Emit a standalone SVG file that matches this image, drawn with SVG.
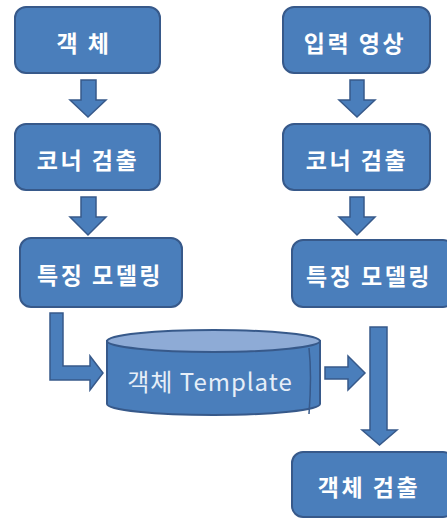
<svg xmlns="http://www.w3.org/2000/svg" width="447" height="519" viewBox="0 0 447 519">
<style>
.box{fill:#4a7ebb;stroke:#37598a;stroke-width:2}
.arr{fill:#4a7ebb;stroke:#37598a;stroke-width:1.5;stroke-linejoin:miter}
.t{fill:#ffffff;font-family:"Noto Sans CJK KR","Malgun Gothic",sans-serif;font-size:23px;font-weight:bold;letter-spacing:2.5px;text-anchor:middle;dominant-baseline:central}
.tc{fill:#e6eef8;font-family:"Noto Sans CJK KR",sans-serif;font-size:24px;letter-spacing:1px;text-anchor:middle;dominant-baseline:central}
</style>
<rect width="447" height="519" fill="#ffffff"/>
<g id="connectors">
<path class="arr" d="M81,80 H96 V100 H106 L88,117 L70,100 H81 Z"/>
<path class="arr" d="M81,197 H96 V217 H106 L88,235 L70,217 H81 Z"/>
<path class="arr" d="M350,80 H364 V100 H375 L357,117 L339,100 H350 Z"/>
<path class="arr" d="M350,197 H364 V217 H375 L357,235 L339,217 H350 Z"/>
<path class="arr" d="M50,313 H63 V366 H90 V356 L103,373 L90,390 V380 H50 Z"/>
<path class="arr" d="M325,367 H348 V356 L365,373 L348,390 V379 H325 Z"/>
<path class="arr" d="M370,327 H387 V430 H397 L379.5,445 L362,430 H370 Z"/>
</g>
<g id="n1"><rect class="box" x="15" y="7" width="145" height="66" rx="11"/><text class="t" x="84" y="42">객 체</text></g>
<g id="n2"><rect class="box" x="15" y="124" width="145" height="66" rx="11"/><text class="t" x="88" y="159">코너 검출</text></g>
<g id="n3"><rect class="box" x="20" y="238" width="162" height="69" rx="11"/><text class="t" x="100" y="274">특징 모델링</text></g>
<g id="n4"><rect class="box" x="283" y="7" width="147" height="66" rx="11"/><text class="t" x="355" y="42">입력 영상</text></g>
<g id="n5"><rect class="box" x="283" y="124" width="147" height="66" rx="11"/><text class="t" x="357" y="159">코너 검출</text></g>
<g id="n6"><rect class="box" x="292" y="240" width="162" height="67" rx="11"/><text class="t" x="369" y="275">특징 모델링</text></g>
<g id="n7"><rect class="box" x="292" y="452" width="162" height="65" rx="11"/><text class="t" x="369" y="486">객체 검출</text></g>
<g id="n8">
<path class="box" d="M107,341 V404 A106.5,11 0 0 0 320,404 V341 Z"/>
<path d="M309,348 Q312,375 309,414" fill="none" stroke="#37598a" stroke-width="1.5"/>
<ellipse cx="213.5" cy="341" rx="106.5" ry="11" fill="#8eabd6" stroke="#37598a" stroke-width="2"/>
<text class="tc" x="210" y="380">객체 Template</text>
</g>
</svg>
